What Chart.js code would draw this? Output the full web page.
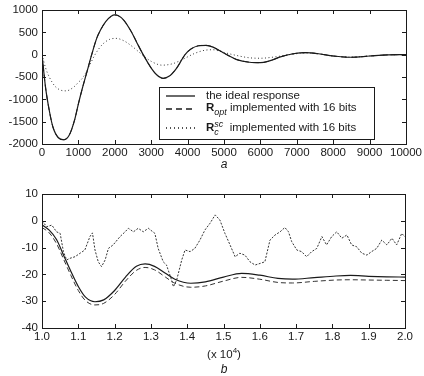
<!DOCTYPE html>
<html lang="en">
<head>
<meta charset="utf-8">
<title>Filter responses</title>
<script src="https://cdn.jsdelivr.net/npm/chart.js"></script>
<style>
  html, body { margin: 0; padding: 0; background: #fff; }
  #wrapTop { position: absolute; left: 0; top: 0; width: 424px; height: 180px; }
  #wrapBottom { position: absolute; left: 0; top: 180px; width: 424px; height: 196px; }
</style>
</head>
<body>
<div id="wrapTop"><canvas id="topChart" width="424" height="180"></canvas></div>
<div id="wrapBottom"><canvas id="bottomChart" width="424" height="196"></canvas></div>
<script>
// ---- (a) response, 0 .. 10000 ----
const topIdealX = [0, 100, 200, 300, 450, 600, 750, 900, 1000, 1100, 1250, 1365, 1500, 1600, 1750, 1900, 2000, 2100, 2250, 2450,
                   2600, 2780, 3000, 3150, 3330, 3500, 3700, 3930, 4100, 4300, 4500, 4700, 4900, 5100, 5350, 5700, 6000, 6250, 6550, 6900,
                   7250, 7600, 8000, 8500, 9000, 9500, 10000];
const topIdealY = [0, -750, -1250, -1620, -1860, -1905, -1800, -1450, -1100, -780, -340, 0, 360, 540, 740, 860, 890, 870, 770, 520,
                   280, 0, -300, -450, -530, -480, -300, 0, 130, 200, 210, 170, 80, -10, -110, -170, -180, -140, -50, 20,
                   45, 20, -30, -58, -30, -5, 0];
// R_opt with 16 bits sits on top of the ideal curve
const topOptY = [0, -750, -1250, -1620, -1860, -1905, -1800, -1450, -1100, -780, -340, 0, 360, 540, 740, 860, 890, 870, 770, 520,
                 280, 0, -300, -450, -530, -480, -300, 0, 130, 200, 210, 170, 80, -10, -110, -170, -180, -140, -50, 20,
                 45, 20, -30, -58, -30, -5, 0];
const topScX = [0, 100, 200, 350, 500, 660, 850, 1000, 1135, 1300, 1456, 1650, 1850, 2030, 2250, 2500, 2750, 3000, 3300, 3600,
                3900, 4200, 4450, 4700, 4950, 5300, 5700, 6000, 6400, 6800, 7250, 7600, 8000, 8500, 9000, 9500, 10000];
const topScY = [0, -300, -500, -700, -790, -810, -740, -620, -500, -250, 0, 220, 340, 365, 310, 170, 0, -150, -235, -200,
                -90, 30, 95, 110, 60, -10, -70, -80, -50, 0, 40, 20, -30, -55, -30, -5, 0];

// ---- (b) zoom, 1.0 .. 2.0 (x 10^4) ----
const botX = [1.00, 1.02, 1.04, 1.06, 1.08, 1.10, 1.12, 1.146, 1.17, 1.20, 1.23, 1.26, 1.284, 1.31, 1.34, 1.366, 1.41, 1.45, 1.50, 1.55,
              1.60, 1.65, 1.69, 1.75, 1.81, 1.85, 1.90, 1.95, 2.00];
const botIdeal = [-1.5, -3.5, -7, -13, -19, -24.5, -28.5, -30.2, -29.5, -26, -21, -17, -16.1, -17, -19.6, -21.8, -23.3, -22.8, -21, -19.6,
                  -20.3, -21.5, -21.8, -21.2, -20.6, -20.4, -20.7, -20.9, -21];
const botOpt = [-2.5, -4.5, -8.5, -14.5, -20.5, -26, -29.8, -31.4, -30.8, -27.5, -22.5, -18.5, -17.4, -18.3, -21, -23.3, -24.8, -24.3, -22.5, -21.1,
                -21.8, -23, -23.2, -22.6, -22.1, -22, -22.1, -22.2, -22.3];
const botScX = [1.000, 1.013, 1.027, 1.040, 1.050, 1.059, 1.068, 1.077, 1.091, 1.105, 1.118, 1.132, 1.139, 1.146, 1.155, 1.164, 1.174, 1.183, 1.196, 1.215,
                1.229, 1.238, 1.252, 1.265, 1.279, 1.293, 1.311, 1.320, 1.334, 1.343, 1.357, 1.362, 1.371, 1.385, 1.394, 1.408, 1.421, 1.435, 1.449, 1.463,
                1.477, 1.490, 1.504, 1.518, 1.532, 1.545, 1.559, 1.573, 1.587, 1.601, 1.614, 1.628, 1.642, 1.656, 1.669, 1.679, 1.688, 1.702, 1.715, 1.729,
                1.743, 1.757, 1.771, 1.784, 1.798, 1.812, 1.826, 1.840, 1.853, 1.867, 1.881, 1.895, 1.908, 1.922, 1.936, 1.950, 1.964, 1.977, 1.991, 2.000];
const botScY = [0, -2.2, -1.6, -4.1, -4.7, -11.5, -14.6, -14, -13.4, -12.1, -10.9, -5.9, -4.5, -10.9, -15.3, -17.1, -14.6, -10.3, -9, -5.9,
                -4.1, -2.8, -4.1, -2.8, -4.1, -2.8, -4.7, -10.3, -15.3, -16.5, -22.1, -24.6, -22.1, -14.6, -10.9, -11.5, -10.3, -7.2, -3.4, -0.9,
                2.2, 0.3, -4.7, -9, -13.4, -12.1, -12.8, -15.3, -16.5, -15.9, -15.3, -7.2, -5.3, -4.1, -2.5, -4.1, -7.8, -10.9, -11.5, -13.4,
                -11.5, -10.3, -5.9, -9, -5.9, -4.1, -6.5, -5.3, -9, -9.7, -12.1, -12.8, -11.5, -10.3, -7.2, -9, -6.5, -9, -4.7, -6];

const FONT = "'Liberation Sans', Arial, sans-serif";
const INK = '#1a1a1a';

function pts(xs, ys) {
    return xs.map((x, i) => ({ x: x, y: ys[i] }));
}

// box round the plot and short ticks pointing inwards on all four sides
const frameTicks = {
    id: 'frameTicks',
    afterDatasetsDraw(chart) {
        const { ctx, chartArea: a, scales } = chart;
        const len = 4;
        ctx.save();
        ctx.strokeStyle = INK;
        ctx.lineWidth = 1;
        ctx.strokeRect(Math.round(a.left) + 0.5, Math.round(a.top) + 0.5,
                       Math.round(a.right - a.left), Math.round(a.bottom - a.top));
        ctx.beginPath();
        scales.x.ticks.forEach(t => {
            const px = Math.round(scales.x.getPixelForValue(t.value)) + 0.5;
            ctx.moveTo(px, a.bottom); ctx.lineTo(px, a.bottom - len);
            ctx.moveTo(px, a.top); ctx.lineTo(px, a.top + len);
        });
        scales.y.ticks.forEach(t => {
            const py = Math.round(scales.y.getPixelForValue(t.value)) + 0.5;
            ctx.moveTo(a.left, py); ctx.lineTo(a.left + len, py);
            ctx.moveTo(a.right, py); ctx.lineTo(a.right - len, py);
        });
        ctx.stroke();
        ctx.restore();
    }
};

// text pieces with sub / superscripts
function richText(ctx, x, y, parts) {
    parts.forEach(p => {
        const size = p.size || 11.5;
        ctx.font = (p.italic ? 'italic ' : '') + (p.bold ? 'bold ' : '') + size + 'px ' + FONT;
        ctx.fillText(p.t, x, y + (p.dy || 0));
        if (!p.stay) x += ctx.measureText(p.t).width;
    });
}

const topLegend = {
    id: 'topLegend',
    afterDraw(chart) {
        const ctx = chart.ctx;
        ctx.save();
        ctx.fillStyle = '#fff';
        ctx.fillRect(159, 87, 215, 52);
        ctx.strokeStyle = INK;
        ctx.lineWidth = 1;
        ctx.strokeRect(159.5, 87.5, 215, 52);

        ctx.lineWidth = 1.3;
        ctx.beginPath(); ctx.setLineDash([]); ctx.moveTo(166, 96); ctx.lineTo(195, 96); ctx.stroke();
        ctx.beginPath(); ctx.setLineDash([6, 4]); ctx.moveTo(166, 109); ctx.lineTo(196, 109); ctx.stroke();
        ctx.beginPath(); ctx.setLineDash([1, 3]); ctx.moveTo(166, 128); ctx.lineTo(196, 128); ctx.stroke();
        ctx.setLineDash([]);

        ctx.fillStyle = INK;
        ctx.textBaseline = 'middle';
        richText(ctx, 206, 96, [{ t: 'the ideal response' }]);
        richText(ctx, 206, 108, [
            { t: 'R', bold: true },
            { t: 'opt', italic: true, size: 9, dy: 4 },
            { t: ' implemented with 16 bits' }
        ]);
        richText(ctx, 206, 128, [
            { t: 'R', bold: true },
            { t: 'c', italic: true, size: 9, dy: 4, stay: true },
            { t: 'sc', italic: true, size: 9, dy: -4 },
            { t: '  implemented with 16 bits' }
        ]);
        ctx.restore();
    }
};

function captionPlugin(lines) {
    return {
        id: 'caption',
        afterDraw(chart) {
            const ctx = chart.ctx;
            ctx.save();
            ctx.fillStyle = INK;
            ctx.textAlign = 'center';
            ctx.textBaseline = 'middle';
            lines.forEach(l => {
                if (l.sup) {
                    ctx.font = '11.5px ' + FONT;
                    const w1 = ctx.measureText(l.t).width;
                    ctx.font = '8px ' + FONT;
                    const w2 = ctx.measureText(l.sup).width;
                    ctx.font = '11.5px ' + FONT;
                    const w3 = ctx.measureText(l.after).width;
                    let x = l.x - (w1 + w2 + w3) / 2;
                    ctx.textAlign = 'left';
                    ctx.fillText(l.t, x, l.y); x += w1;
                    ctx.font = '8px ' + FONT;
                    ctx.fillText(l.sup, x, l.y - 4); x += w2;
                    ctx.font = '11.5px ' + FONT;
                    ctx.fillText(l.after, x, l.y);
                    ctx.textAlign = 'center';
                } else {
                    ctx.font = (l.italic ? 'italic ' : '') + '12px ' + FONT;
                    ctx.fillText(l.t, l.x, l.y);
                }
            });
            ctx.restore();
        }
    };
}

function axes(xMin, xMax, xStep, yMin, yMax, yStep, xFmt, xHeight) {
    const tickFont = { family: FONT, size: 11.5 };
    return {
        x: {
            type: 'linear', min: xMin, max: xMax,
            grid: { display: false, drawTicks: false },
            border: { display: false },
            ticks: { stepSize: xStep, color: INK, font: tickFont, padding: 2, maxRotation: 0, autoSkip: false,
                     callback: xFmt },
            afterFit(s) { s.height = xHeight; s.paddingLeft = 0; s.paddingRight = 0; }
        },
        y: {
            type: 'linear', min: yMin, max: yMax,
            grid: { display: false, drawTicks: false },
            border: { display: false },
            ticks: { stepSize: yStep, color: INK, font: tickFont, padding: 4, autoSkip: false,
                     callback: v => String(v) },
            afterFit(s) { s.width = 42; s.paddingTop = 0; s.paddingBottom = 0; }
        }
    };
}

Chart.defaults.animation = false;

new Chart(document.getElementById('topChart'), {
    type: 'line',
    data: {
        datasets: [
            { label: 'the ideal response', data: pts(topIdealX, topIdealY), borderColor: INK, borderWidth: 1.2,
              pointRadius: 0, cubicInterpolationMode: 'monotone' },
            { label: 'Ropt implemented with 16 bits', data: pts(topIdealX, topOptY), borderColor: INK, borderWidth: 1,
              borderDash: [6, 4], pointRadius: 0, cubicInterpolationMode: 'monotone' },
            { label: 'Rc sc implemented with 16 bits', data: pts(topScX, topScY), borderColor: '#333', borderWidth: 1,
              borderDash: [1, 2.5], pointRadius: 0, cubicInterpolationMode: 'monotone' }
        ]
    },
    options: {
        responsive: false,
        layout: { padding: { left: 0, right: 18, top: 10, bottom: 0 } },
        plugins: { legend: { display: false }, tooltip: { enabled: false } },
        scales: axes(0, 10000, 1000, -2000, 1000, 500, v => String(v), 36)
    },
    plugins: [frameTicks, topLegend, captionPlugin([{ t: 'a', italic: true, x: 224, y: 165 }])]
});

new Chart(document.getElementById('bottomChart'), {
    type: 'line',
    data: {
        datasets: [
            { label: 'the ideal response', data: pts(botX, botIdeal), borderColor: INK, borderWidth: 1.2,
              pointRadius: 0, cubicInterpolationMode: 'monotone' },
            { label: 'Ropt implemented with 16 bits', data: pts(botX, botOpt), borderColor: '#333', borderWidth: 1,
              borderDash: [5, 3], pointRadius: 0, cubicInterpolationMode: 'monotone' },
            { label: 'Rc sc implemented with 16 bits', data: pts(botScX, botScY), borderColor: '#333', borderWidth: 1,
              borderDash: [2, 1.5], pointRadius: 0, tension: 0 }
        ]
    },
    options: {
        responsive: false,
        layout: { padding: { left: 0, right: 19, top: 14, bottom: 0 } },
        plugins: { legend: { display: false }, tooltip: { enabled: false } },
        scales: axes(1, 2, 0.1, -40, 10, 10, v => Number(v).toFixed(1), 48)
    },
    plugins: [frameTicks, captionPlugin([
        { t: '(x 10', sup: '4', after: ')', x: 224, y: 175 },
        { t: 'b', italic: true, x: 224, y: 190 }
    ])]
});
</script>
</body>
</html>
